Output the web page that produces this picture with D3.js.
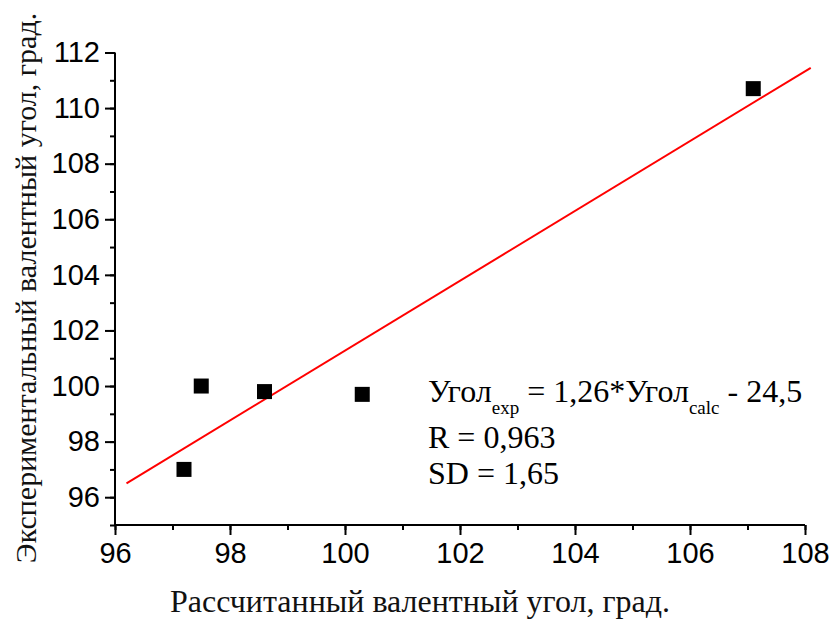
<!DOCTYPE html>
<html><head><meta charset="utf-8">
<script src="https://cdn.jsdelivr.net/npm/d3@7"></script>
<style>body{margin:0;background:#fff}svg{display:block}</style>
</head><body>
<svg id="c" width="832" height="619"></svg>
<script>
const calcAngle = [97.2, 97.5, 98.6, 100.3, 107.1];
const expAngle  = [97.0, 100.0, 99.8, 99.7, 110.7];
const fitX = [96.2, 108.1];
const fitY = [96.5, 111.45];
const xTicks = [96, 98, 100, 102, 104, 106, 108];
const yTicks = [96, 98, 100, 102, 104, 106, 108, 110, 112];
const xTitle = "Рассчитанный валентный угол, град.";
const yTitle = "Экспериментальный валентный угол, град.";

const svg = d3.select("#c");
const x = d3.scaleLinear().domain([96, 108]).range([115, 805]);
const y = d3.scaleLinear().domain([95, 112]).range([525, 52.5]);

const sans = "'Liberation Sans', Arial, sans-serif";
const serif = "'Liberation Serif', 'Times New Roman', serif";

// X axis
const xg = svg.append("g").attr("transform", "translate(0,525)");
xg.call(d3.axisBottom(x).tickValues(d3.range(96, 108.01, 1)).tickSize(5).tickFormat(""));
xg.selectAll(".tick line").attr("stroke-width", 2);
xg.select(".domain").remove();
const xg2 = svg.append("g").attr("transform", "translate(0,525)");
xg2.call(d3.axisBottom(x).tickValues(xTicks).tickSize(10).tickPadding(6).tickFormat(d3.format("d")));
xg2.selectAll(".tick line").attr("stroke-width", 2);
xg2.selectAll(".tick text").attr("font-family", sans).attr("font-size", 29).attr("fill", "#000").attr("dy", "0.76em");
xg2.select(".domain").attr("d", `M${x(96)},0H${x(108)}`).attr("stroke-width", 2);

// Y axis
const yg = svg.append("g").attr("transform", "translate(115,0)");
yg.call(d3.axisLeft(y).tickValues(d3.range(95, 112.01, 1)).tickSize(5).tickFormat(""));
yg.selectAll(".tick line").attr("stroke-width", 2);
yg.select(".domain").remove();
const yg2 = svg.append("g").attr("transform", "translate(115,0)");
yg2.call(d3.axisLeft(y).tickValues(yTicks).tickSize(10).tickPadding(5).tickFormat(d3.format("d")));
yg2.selectAll(".tick line").attr("stroke-width", 2);
yg2.selectAll(".tick text").attr("font-family", sans).attr("font-size", 29).attr("fill", "#000");
yg2.select(".domain").attr("d", `M0,${y(95)}V${y(112)}`).attr("stroke-width", 2);

// Fit line
svg.append("line")
  .attr("x1", x(fitX[0])).attr("y1", y(fitY[0]))
  .attr("x2", x(fitX[1])).attr("y2", y(fitY[1]))
  .attr("stroke", "#ff0000").attr("stroke-width", 2);

// Points
const s = 15;
svg.selectAll("rect.pt").data(calcAngle).join("rect")
  .attr("class", "pt")
  .attr("x", (d) => x(d) - s / 2)
  .attr("y", (d, i) => y(expAngle[i]) - s / 2)
  .attr("width", s).attr("height", s).attr("fill", "#000");

// Annotation
const ann = svg.append("g").attr("font-family", serif).attr("fill", "#000");
const t1 = ann.append("text").attr("x", 428).attr("y", 402).attr("font-size", 32);
t1.append("tspan").text("Угол");
t1.append("tspan").attr("font-size", 19).attr("dy", 12).text("exp");
t1.append("tspan").attr("dy", -12).text(" = 1,26*Угол");
t1.append("tspan").attr("font-size", 19).attr("dy", 12).text("calc");
t1.append("tspan").attr("dy", -12).text(" - 24,5");
ann.append("text").attr("x", 428).attr("y", 448).attr("font-size", 32).text("R = 0,963");
ann.append("text").attr("x", 428).attr("y", 484).attr("font-size", 32).text("SD = 1,65");

// Axis titles
svg.append("text").attr("x", 420).attr("y", 612).attr("text-anchor", "middle")
  .attr("font-family", serif).attr("font-size", 32).attr("fill", "#111").text(xTitle);
svg.append("text").attr("transform", "translate(36,288) rotate(-90)").attr("text-anchor", "middle")
  .attr("font-family", serif).attr("font-size", 30).attr("fill", "#111").text(yTitle);
</script>
</body></html>
